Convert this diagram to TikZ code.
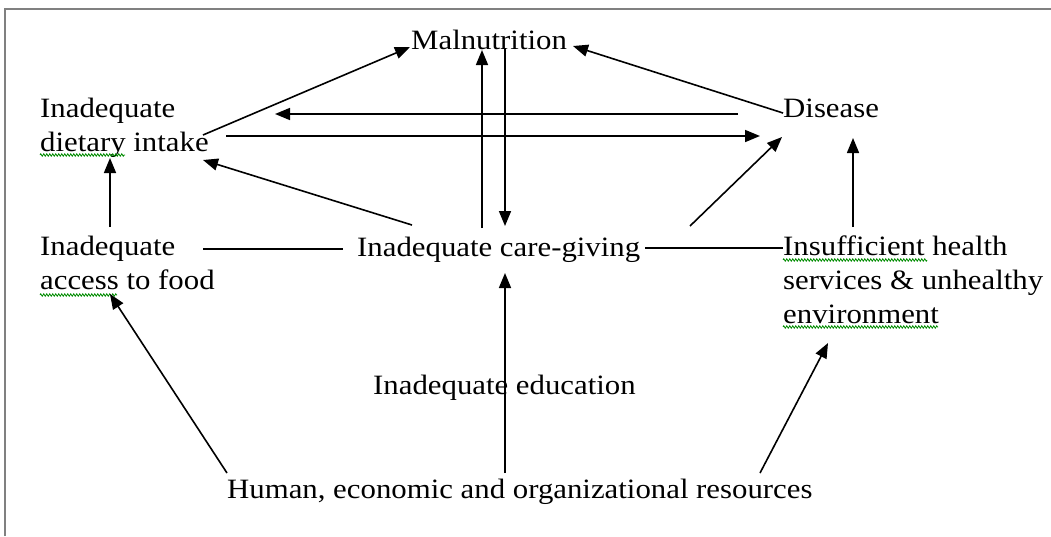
\documentclass[tikz,border=0pt]{standalone}
\usepackage{fontspec}
\setmainfont[FakeStretch=1.1]{Liberation Serif}
\usetikzlibrary{arrows.meta,decorations.pathmorphing}
\begin{document}
\begin{tikzpicture}[x=1pt,y=-1pt,
  lbl/.style={inner sep=0pt, font=\fontsize{28}{34}\selectfont, align=left},
  arr/.style={line width=1.6pt, -{Triangle[length=15pt,width=12pt]}},
  ln/.style={line width=1.6pt},
  squig/.style={green!55!black, line width=0.8pt, decorate, decoration={zigzag, amplitude=1.2pt, segment length=3pt}},
  frame/.style={gray, line width=2.2pt}]
\useasboundingbox (0,0) rectangle (1051,536);
\fill[white] (0,0) rectangle (1051,536);
\draw[frame] (5,536) -- (5,9) -- (1051,9);
% nodes
\node[lbl, anchor=base west] (mal) at (411,49) {Malnutrition};
\node[lbl, anchor=north west] (diet) at (40,98) {Inadequate\\dietary intake};
\node[lbl, anchor=base west] (dis) at (783,117) {Disease};
\node[lbl, anchor=north west] (access) at (40,236) {Inadequate\\access to food};
\node[lbl, anchor=base west] (care) at (357,256) {Inadequate care-giving};
\node[lbl, anchor=north west] (insuf) at (783,236) {Insufficient health\\services \& unhealthy\\environment};
\node[lbl, anchor=base west] (edu) at (373,394) {Inadequate education};
\node[lbl, anchor=base west] (human) at (227,498) {Human, economic and organizational resources};
% spell-check squiggles
\draw[squig] ([shift={(0,57)}]diet.north west) -- ++(85,0);
\draw[squig] ([shift={(0,59)}]access.north west) -- ++(77,0);
\draw[squig] ([shift={(0,24)}]insuf.north west) -- ++(144,0);
\draw[squig] ([shift={(0,91)}]insuf.north west) -- ++(155,0);
% connectors
\draw[arr] ([shift={(163,37)}]diet.north west) -- ([shift={(-1,-2)}]mal.base west);
\draw[arr] ([shift={(-45,-3)}]dis.base west) -- ([shift={(235,16)}]diet.north west);
\draw[arr] ([shift={(186,38)}]diet.north west) -- ([shift={(-23,19)}]dis.base west);
\draw[arr] ([shift={(0,-4)}]dis.base west) -- ([shift={(162,-3)}]mal.base west);
\draw[arr] ([shift={(125,-28)}]care.base west) -- ([shift={(71,1)}]mal.base west);
\draw[arr] ([shift={(94,-1)}]mal.base west) -- ([shift={(148,-30)}]care.base west);
\draw[arr] ([shift={(55,-31)}]care.base west) -- ([shift={(163,62)}]diet.north west);
\draw[arr] ([shift={(333,-30)}]care.base west) -- ([shift={(-1,20)}]dis.base west);
\draw[arr] ([shift={(70,-9)}]access.north west) -- ([shift={(70,60)}]diet.north west);
\draw[ln] ([shift={(163,13)}]access.north west) -- ([shift={(-14,-7)}]care.base west);
\draw[ln] ([shift={(288,-8)}]care.base west) -- ([shift={(0,12)}]insuf.north west);
\draw[arr] ([shift={(70,-9)}]insuf.north west) -- ([shift={(70,21)}]dis.base west);
\draw[arr] ([shift={(0,-25)}]human.base west) -- ([shift={(70,58)}]access.north west);
\draw[arr] ([shift={(278,-25)}]human.base west) -- ([shift={(148,17)}]care.base west);
\draw[arr] ([shift={(533,-25)}]human.base west) -- ([shift={(45,107)}]insuf.north west);
\end{tikzpicture}
\end{document}
